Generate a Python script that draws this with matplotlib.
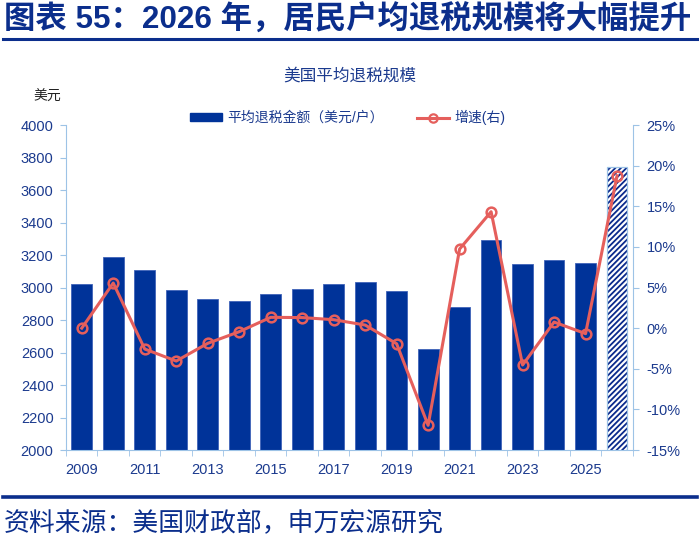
import numpy as np
import matplotlib
matplotlib.use("Agg")
import matplotlib.pyplot as plt
from matplotlib.patches import Patch
from matplotlib.lines import Line2D
from matplotlib.ticker import FuncFormatter

plt.rcParams['font.family'] = ['Liberation Sans', 'Noto Sans CJK SC']
plt.rcParams['hatch.linewidth'] = 1.3

# --- dados ---
anos = list(range(2009, 2027))
valor_medio = [3021, 3190, 3108, 2983, 2927, 2915, 2958, 2993, 3024, 3034,
               2977, 2620, 2878, 3290, 3143, 3167, 3149, 3740]
crescimento = [0.0, 5.55, -2.57, -4.05, -1.87, -0.44, 1.33, 1.30, 1.04, 0.38,
               -1.92, -11.96, 9.74, 14.33, -4.54, 0.75, -0.68, 18.76]
rotulos_x = [str(a) if (a - 2009) % 2 == 0 else '' for a in anos]

AZUL = '#003399'
AZUL_TXT = '#1B3A8E'
AZUL_CLARO = '#9DC3E6'
VERMELHO = '#E55F5C'

fig = plt.figure(figsize=(7, 5.45), dpi=100)
ax = fig.add_axes([0.0943, 0.1743, 0.8097, 0.5963])
ax2 = ax.twinx()

x = np.arange(len(anos))
# anos realizados: barras cheias; ultimo ano (previsao): hachurado
ax.bar(x[:-1], valor_medio[:-1], width=0.66, color=AZUL, edgecolor='#3F63B8',
       linewidth=0.6, zorder=2)
ax.bar(x[-1:], valor_medio[-1:], width=0.66, color='white', edgecolor='#0A2A8C',
       linewidth=0, hatch='//////', zorder=2)
ax.bar(x[-1:], valor_medio[-1:], width=0.66, fill=False, edgecolor=AZUL_CLARO,
       linewidth=0.9, zorder=2)

ax2.plot(x, crescimento, color=VERMELHO, lw=2.2, marker='o', ms=7,
         mfc='none', mec=VERMELHO, mew=1.8, zorder=3)

ax.set_xlim(-0.5, len(anos) - 0.5)
ax.set_ylim(2000, 4000)
ax.set_yticks(np.arange(2000, 4001, 200))
ax2.set_ylim(-15, 25)
ax2.set_yticks(np.arange(-15, 26, 5))
ax2.yaxis.set_major_formatter(FuncFormatter(lambda v, p: f'{v:.0f}%'))

ax.set_xticks(x)
ax.set_xticklabels(rotulos_x)
ax.set_xticks(np.arange(-0.5, len(anos), 1), minor=True)
ax.tick_params(axis='x', which='major', length=0, pad=9)
ax.tick_params(axis='x', which='minor', length=4, color=AZUL_CLARO, direction='out')

for a in (ax, ax2):
    for s in a.spines.values():
        s.set_visible(False)
    a.tick_params(colors=AZUL_TXT, labelsize=10.5)
ax.spines['left'].set_visible(True)
ax.spines['left'].set_color(AZUL_CLARO)
ax.spines['bottom'].set_visible(True)
ax.spines['bottom'].set_color(AZUL_CLARO)
ax2.spines['right'].set_visible(True)
ax2.spines['right'].set_color(AZUL_CLARO)
ax.tick_params(axis='y', length=4, color=AZUL_CLARO, pad=5)
ax2.tick_params(axis='y', length=4, color=AZUL_CLARO, pad=6)
ax.tick_params(axis='x', which='minor', color=AZUL_CLARO)

handles = [Patch(facecolor=AZUL, edgecolor=AZUL),
           Line2D([0], [0], color=VERMELHO, lw=2.2, marker='o', ms=6, mfc='none', mew=1.6)]
leg = ax.legend(handles, ['平均退税金额（美元/户）', '增速(右)'], loc='upper center',
                bbox_to_anchor=(0.497, 1.085), ncol=2, frameon=False, fontsize=10,
                handlelength=2.3, handleheight=0.55, columnspacing=2.4, handletextpad=0.4)
for t in leg.get_texts():
    t.set_color(AZUL_TXT)

fig.text(0.5, 0.862, '美国平均退税规模', ha='center', va='center', fontsize=12, color=AZUL_TXT)
fig.text(0.068, 0.822, '美元', ha='center', va='center', fontsize=10, color='#222222')

# titulo e rodape
fig.text(0.006, 0.963, '图表 55：2026 年，居民户均退税规模将大幅提升', ha='left', va='center',
         fontsize=22.6, fontweight='bold', color='#0B2E8C')
fig.add_artist(Line2D([0.004, 0.996], [0.929, 0.929], color='#0B2E8C', lw=2.2))
fig.add_artist(Line2D([0.004, 0.996], [0.088, 0.088], color='#0B2E8C', lw=2.6))
fig.text(0.006, 0.04, '资料来源：美国财政部，申万宏源研究', ha='left', va='center',
         fontsize=18.6, color='#0B2E8C')

fig.savefig('out.png', dpi=100)
